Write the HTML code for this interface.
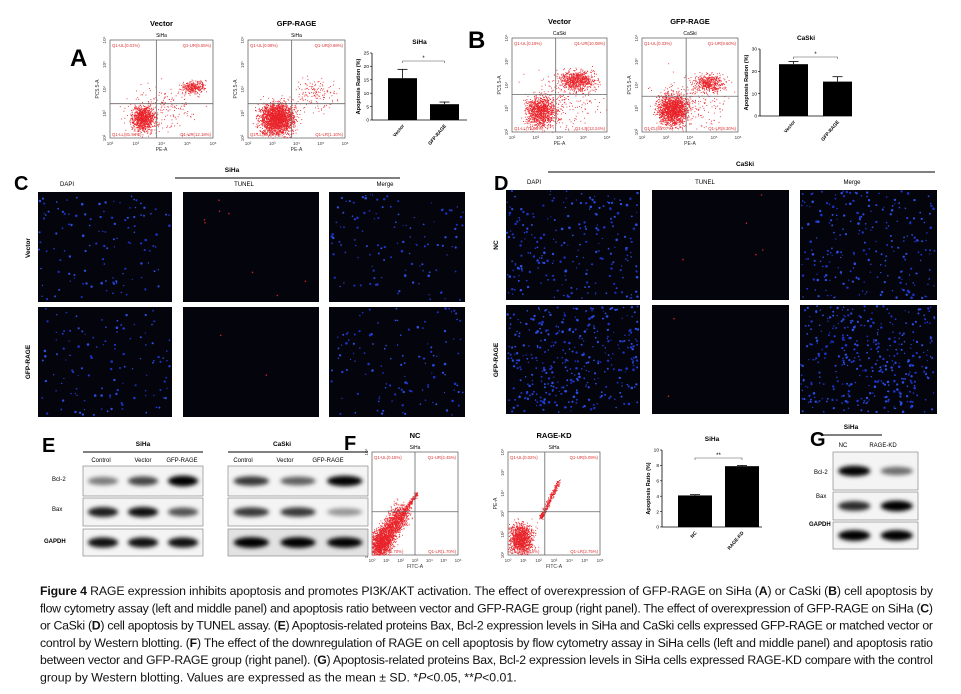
<!DOCTYPE html>
<html><head><meta charset="utf-8"><style>
html,body{margin:0;padding:0;background:#fff;}
svg{display:block;font-family:"Liberation Sans",Arial,sans-serif;}
</style></head><body>
<svg id="fig" width="961" height="694" viewBox="0 0 961 694" xmlns="http://www.w3.org/2000/svg">
<defs>
<filter id="blur" x="-30%" y="-100%" width="160%" height="300%"><feGaussianBlur stdDeviation="2.2"/></filter>
</defs>
<g id="root"></g>
</svg>
<script>
// ---- bar chart data ----
const catsA=["Vector","GFP-RAGE"];
const valsA=[15.6,5.9];
const errA=[3.3,0.8];
const ticksA=[0,5,10,15,20,25];
const catsB=["Vector","GFP-RAGE"];
const valsB=[23.2,15.4];
const errB=[1.2,2.2];
const ticksB=[0,10,20,30];
const catsF=["NC","RAGE-KD"];
const valsF=[4.1,7.9];
const errF=[0.1,0.1];
const ticksF=[0,2,4,6,8,10];

const NS="http://www.w3.org/2000/svg";
const root=document.getElementById('root');
function el(tag,attrs,parent,text){const e=document.createElementNS(NS,tag);for(const k in attrs)e.setAttribute(k,attrs[k]);if(text!==undefined)e.textContent=text;(parent||root).appendChild(e);return e;}
function txt(x,y,s,size,opts,parent){opts=opts||{};const t=el('text',{x:x,y:y,'font-size':size,fill:opts.fill||'#000','text-anchor':opts.anchor||'start','font-weight':opts.bold?'bold':'normal'},parent,s);if(opts.rot)t.setAttribute('transform','rotate('+opts.rot+' '+x+' '+y+')');if(opts.len){t.setAttribute('textLength',opts.len);t.setAttribute('lengthAdjust','spacing');}return t;}
let seed=12345;function rnd(){seed=(seed*16807)%2147483647;return (seed-1)/2147483646;}
function gauss(){return (rnd()+rnd()+rnd()+rnd()-2)/0.75;}

// panel letters
[["A",70,66],["B",468,48],["C",14,190],["D",494,190],["E",42,452],["F",344,450],["G",810,446]].forEach(p=>{
 const t=txt(p[1],p[2],p[0],p[0]=="A"||p[0]=="B"?24:20,{bold:true});
 
});

// ---- flow cytometry scatter ----
function flow(x,y,w,h,title,sub,labels,clusters,qx,qy,xl,yl){
 const g=el('g',{},root);
 
 
 if(title)txt(x+w/2,y-14,title,7.5,{anchor:'middle',bold:true},g);
 txt(x+w/2,y-3,sub,5,{anchor:'middle'},g);
 el('rect',{x:x,y:y,width:w,height:h,fill:'#fff',stroke:'#555','stroke-width':0.7},g);
 clusters.forEach(c=>{for(let i=0;i<c.n;i++){let px,py;
  if(c.diag){const t=rnd();px=c.x0+(c.x1-c.x0)*t+gauss()*c.s;py=c.y0+(c.y1-c.y0)*t+gauss()*c.s;}
  else{px=c.cx+gauss()*c.sx;py=c.cy+gauss()*c.sy;}
  if(px<0||px>1||py<0||py>1)continue;
  el('rect',{x:(x+px*w).toFixed(1),y:(y+(1-py)*h).toFixed(1),width:0.9,height:0.9,fill:'#e8242a'},g);}});
 el('line',{x1:x+qx*w,y1:y,x2:x+qx*w,y2:y+h,stroke:'#666','stroke-width':0.8},g);
 el('line',{x1:x,y1:y+(1-qy)*h,x2:x+w,y2:y+(1-qy)*h,stroke:'#666','stroke-width':0.8},g);
 txt(x+2,y+7,labels[0],4.3,{fill:'#d33'},g);txt(x+w-2,y+7,labels[1],4.3,{fill:'#d33',anchor:'end'},g);
 txt(x+2,y+h-2,labels[2],4.3,{fill:'#d33'},g);txt(x+w-2,y+h-2,labels[3],4.3,{fill:'#d33',anchor:'end'},g);
 const ex=xl||['10²','10³','10⁴','10⁵','10⁶'];
 ex.forEach((s,i)=>{const px=x+i*w/(ex.length-1);txt(px,y+h+7,s,4.5,{anchor:'middle',fill:'#444'},g);});
 txt(x+w/2,y+h+13,xl?"FITC-A":"PE-A",5,{anchor:'middle',fill:'#333'},g);
 const ey=yl||['10²','10³','10⁴','10⁵','10⁶'];
 ey.forEach((s,i)=>{const py=y+h-i*h/(ey.length-1);txt(x-4,py,s,4.5,{anchor:'middle',fill:'#444',rot:-90},g);});
 txt(x-11,y+h/2,yl?"PE-A":"PC5.5-A",5,{anchor:'middle',fill:'#333',rot:-90},g);
}
flow(110,40,103,98,"Vector","SiHa",["Q1-UL(0.01%)","Q1-UR(5.55%)","Q1-LL(81.94%)","Q1-UR(12.18%)"],
 [{n:900,cx:0.32,cy:0.2,sx:0.07,sy:0.08},{n:300,cx:0.8,cy:0.52,sx:0.07,sy:0.04},{n:200,cx:0.5,cy:0.3,sx:0.2,sy:0.15}],0.45,0.35);
flow(248,40,97,98,"GFP-RAGE","SiHa",["Q1-UL(0.08%)","Q1-UR(0.88%)","Q1-LL(89.96%)","Q1-LR(1.10%)"],
 [{n:2200,cx:0.3,cy:0.2,sx:0.11,sy:0.1},{n:150,cx:0.7,cy:0.45,sx:0.15,sy:0.1}],0.45,0.35);
flow(512,38,95,94,"Vector","CaSki",["Q1-UL(0.19%)","Q1-UR(10.08%)","Q1-LL(75.68%)","Q1-LR(13.24%)"],
 [{n:1000,cx:0.3,cy:0.22,sx:0.1,sy:0.1},{n:700,cx:0.68,cy:0.55,sx:0.12,sy:0.07},{n:250,cx:0.5,cy:0.3,sx:0.25,sy:0.2}],0.46,0.4);
flow(642,38,96,94,"GFP-RAGE","CaSki",["Q1-UL(0.33%)","Q1-UR(9.60%)","Q1-LL(81.07%)","Q1-LR(8.30%)"],
 [{n:1500,cx:0.32,cy:0.24,sx:0.1,sy:0.1},{n:450,cx:0.7,cy:0.52,sx:0.1,sy:0.06},{n:250,cx:0.5,cy:0.3,sx:0.25,sy:0.2}],0.46,0.38);
const xlF=['10⁰','10¹','10²','10³','10⁴','10⁵','10⁶'],ylF=['10¹','10²','10³','10⁴','10⁵','10⁶'];
flow(372,452,86,103,"NC","SiHa",["Q1-UL(0.15%)","Q1-UR(2.45%)","Q1-LL(95.70%)","Q1-LR(1.70%)"],
 [{n:1800,diag:true,x0:0.05,y0:0.05,x1:0.35,y1:0.42,s:0.07},{n:600,cx:0.1,cy:0.12,sx:0.08,sy:0.09},{n:200,diag:true,x0:0.35,y0:0.4,x1:0.52,y1:0.6,s:0.015}],0.5,0.42,xlF,ylF);
flow(508,452,92,103,"RAGE-KD","SiHa",["Q1-UL(0.02%)","Q1-UR(5.09%)","Q1-LL(92.16%)","Q1-LR(2.75%)"],
 [{n:1200,cx:0.14,cy:0.16,sx:0.08,sy:0.09},{n:300,diag:true,x0:0.35,y0:0.35,x1:0.55,y1:0.72,s:0.015}],0.4,0.42,xlF,ylF);

// ---- bar charts ----
function bars(ax,ay0,ay1,w,bw,cats,vals,errs,ticks,title,ylab,star,pos){
 const g=el('g',{},root);
 
 
 const max=ticks[ticks.length-1];
 const Y=v=>ay0-(v/max)*(ay0-ay1);
 txt(ax+w/2,ay1-9,title,6.5,{anchor:'middle',bold:true},g);
 el('line',{x1:ax,y1:ay1,x2:ax,y2:ay0,stroke:'#000','stroke-width':0.8},g);
 el('line',{x1:ax,y1:ay0,x2:ax+w,y2:ay0,stroke:'#000','stroke-width':0.8},g);
 ticks.forEach(t=>{el('line',{x1:ax-2,y1:Y(t),x2:ax,y2:Y(t),stroke:'#000','stroke-width':0.6},g);txt(ax-3,Y(t)+1.7,String(t),4.8,{anchor:'end'},g);});
 txt(ax-12,(ay0+ay1)/2,ylab,5.5,{anchor:'middle',bold:true,rot:-90},g);
 const cx=[];
 cats.forEach((c,i)=>{const x=ax+pos[i];cx.push(x+bw/2);
  const r=el('rect',{x:x,y:Y(vals[i]),width:bw,height:ay0-Y(vals[i]),fill:'#000'},g);
  
  el('line',{x1:x+bw/2,y1:Y(vals[i]),x2:x+bw/2,y2:Y(vals[i]+errs[i]),stroke:'#000','stroke-width':0.8},g);
  el('line',{x1:x+bw/2-5,y1:Y(vals[i]+errs[i]),x2:x+bw/2+5,y2:Y(vals[i]+errs[i]),stroke:'#000','stroke-width':0.8},g);
  txt(x+bw/2+2,ay0+6,c,4.8,{anchor:'end',bold:true,rot:-50},g);});
 el('path',{d:`M${cx[0]} ${ay1+10}V${ay1+8}H${cx[1]}V${ay1+10}`,fill:'none',stroke:'#555','stroke-width':0.6},g);
 txt((cx[0]+cx[1])/2,ay1+7,star,6,{anchor:'middle'},g);
}
bars(372,120,53,95,29,catsA,valsA,errA,ticksA,"SiHa","Apoptosis Ration (%)","*",[16,58]);
bars(760,116,49,92,29,catsB,valsB,errB,ticksB,"CaSki","Apoptosis Ration (%)","*",[19,63]);
bars(662,527,450,100,34,catsF,valsF,errF,ticksF,"SiHa","Apoptosis Ratio (%)","**",[16,63]);

// ---- microscopy panels ----
function micro(x,y,w,h,kind,n,name){
 const g=el('g',{},root);
 
 el('rect',{x:x,y:y,width:w,height:h,fill:'#04040c'},g);
 if(kind=='blue'){for(let i=0;i<n;i++){const px=x+1+rnd()*(w-3),py=y+1+rnd()*(h-3);
  el('circle',{cx:px.toFixed(1),cy:py.toFixed(1),r:(0.6+rnd()*0.7).toFixed(1),fill:rnd()<0.5?'#1c33c8':'#2a4ee0'},g);}}
 else{for(let i=0;i<n;i++){el('circle',{cx:(x+5+rnd()*(w-10)).toFixed(1),cy:(y+5+rnd()*(h-10)).toFixed(1),r:0.8,fill:'#c22'},g);}}
}
function header(cx,y,x1,x2,s,name){const t=txt(cx,y,s,6.5,{anchor:'middle',bold:true});el('line',{x1:x1,y1:y+6,x2:x2,y2:y+6,stroke:'#000','stroke-width':1});}
header(232,172,175,400,"SiHa","panel-c-header");
header(745,166,548,935,"CaSki","panel-d-header");
[["DAPI",60],["TUNEL",244],["Merge",385]].forEach(a=>txt(a[1],186,a[0],6,{anchor:a[0]=="DAPI"?'start':'middle'}));
[["DAPI",527],["TUNEL",705],["Merge",852]].forEach(a=>txt(a[1],184,a[0],6,{anchor:a[0]=="DAPI"?'start':'middle'}));
const colsC=[38,183,329],colsD=[506,652,800];
[[192,'vector',110],[307,'gfp-rage',110]].forEach((r,ri)=>{
 micro(colsC[0],r[0],134,r[2],'blue',120,'siha-dapi-'+r[1]);
 micro(colsC[1],r[0],136,r[2],'red',ri==0?8:2,'siha-tunel-'+r[1]);
 micro(colsC[2],r[0],136,r[2],'blue',120,'siha-merge-'+r[1]);});
[[190,'nc',110],[305,'gfp-rage',109]].forEach((r,ri)=>{
 micro(colsD[0],r[0],134,r[2],'blue',ri?380:240,'caski-dapi-'+r[1]);
 micro(colsD[1],r[0],137,r[2],'red',ri?2:5,'caski-tunel-'+r[1]);
 micro(colsD[2],r[0],137,r[2],'blue',ri?380:240,'caski-merge-'+r[1]);});
txt(30,248,"Vector",6.5,{anchor:'middle',bold:true,rot:-90});
txt(30,362,"GFP-RAGE",6.5,{anchor:'middle',bold:true,rot:-90});
txt(498,245,"NC",6.5,{anchor:'middle',bold:true,rot:-90});
txt(498,360,"GFP-RAGE",6.5,{anchor:'middle',bold:true,rot:-90});

// ---- western blots ----
function blot(x,y,w,h,intens,name,bg){
 const g=el('g',{},root);
 el('rect',{x:x,y:y,width:w,height:h,fill:bg||'#f4f4f4',stroke:'#777','stroke-width':0.6},g);
 const lw=w/intens.length;
 intens.forEach((v,i)=>{el('ellipse',{cx:x+lw*(i+0.5),cy:y+h/2,rx:lw*0.38,ry:3+v*2.5,fill:'#000','fill-opacity':Math.min(1,v*1.1),filter:'url(#blur)'},g);});
}
header(143,446,83,203,"SiHa","panel-e-siha-header");
header(282,446,228,368,"CaSki","panel-e-caski-header");
[["Control",101],["Vector",143],["GFP-RAGE",182],["Control",243],["Vector",285],["GFP-RAGE",328]].forEach(a=>txt(a[1],462,a[0],6,{anchor:'middle'}));
blot(83,466,120,30,[0.45,0.65,0.95],'blot-e-siha-bcl2');
blot(228,466,140,30,[0.7,0.55,0.9],'blot-e-caski-bcl2');
blot(83,498,120,28,[0.8,0.85,0.6],'blot-e-siha-bax');
blot(228,498,140,28,[0.7,0.7,0.35],'blot-e-caski-bax');
blot(83,529,120,27,[0.85,0.85,0.85],'blot-e-siha-gapdh');
blot(228,529,140,27,[0.95,0.95,0.9],'blot-e-caski-gapdh','#e2e2e2');
txt(52,481,"Bcl-2",6,{});txt(52,511,"Bax",6,{});txt(44,543,"GAPDH",6,{bold:true});
header(851,429,823,882,"SiHa","panel-g-header");
txt(843,447,"NC",6,{anchor:'middle'});txt(883,447,"RAGE-KD",6,{anchor:'middle'});
blot(833,452,85,38,[0.9,0.5],'blot-g-bcl2');
blot(833,492,85,28,[0.75,0.95],'blot-g-bax');
blot(833,522,85,27,[0.95,0.95],'blot-g-gapdh');
txt(814,474,"Bcl-2",6,{});txt(816,498,"Bax",6,{});txt(809,526,"GAPDH",6,{bold:true});

// ---- caption ----
const cap=el('text',{x:40,y:595,'font-size':12.3,fill:'#111'},root);

const lines=[
 '<tspan font-weight="bold">Figure 4</tspan> RAGE expression inhibits apoptosis and promotes PI3K/AKT activation. The effect of overexpression of GFP-RAGE on SiHa (<tspan font-weight="bold">A</tspan>) or CaSki (<tspan font-weight="bold">B</tspan>) cell apoptosis by',
 'flow cytometry assay (left and middle panel) and apoptosis ratio between vector and GFP-RAGE group (right panel). The effect of overexpression of GFP-RAGE on SiHa (<tspan font-weight="bold">C</tspan>)',
 'or CaSki (<tspan font-weight="bold">D</tspan>) cell apoptosis by TUNEL assay. (<tspan font-weight="bold">E</tspan>) Apoptosis-related proteins Bax, Bcl-2 expression levels in SiHa and CaSki cells expressed GFP-RAGE or matched vector or',
 'control by Western blotting. (<tspan font-weight="bold">F</tspan>) The effect of the downregulation of RAGE on cell apoptosis by flow cytometry assay in SiHa cells (left and middle panel) and apoptosis ratio',
 'between vector and GFP-RAGE group (right panel). (<tspan font-weight="bold">G</tspan>) Apoptosis-related proteins Bax, Bcl-2 expression levels in SiHa cells expressed RAGE-KD compare with the control',
 'group by Western blotting. Values are expressed as the mean ± SD. *<tspan font-style="italic">P</tspan>&lt;0.05, **<tspan font-style="italic">P</tspan>&lt;0.01.'];
let html='';
lines.forEach((l,i)=>{html+=`<tspan x="40" y="${595+i*17.3}"${i<5?' textLength="893" lengthAdjust="spacing"':''}>${l}</tspan>`;});
cap.innerHTML=html;
</script>
</body></html>
